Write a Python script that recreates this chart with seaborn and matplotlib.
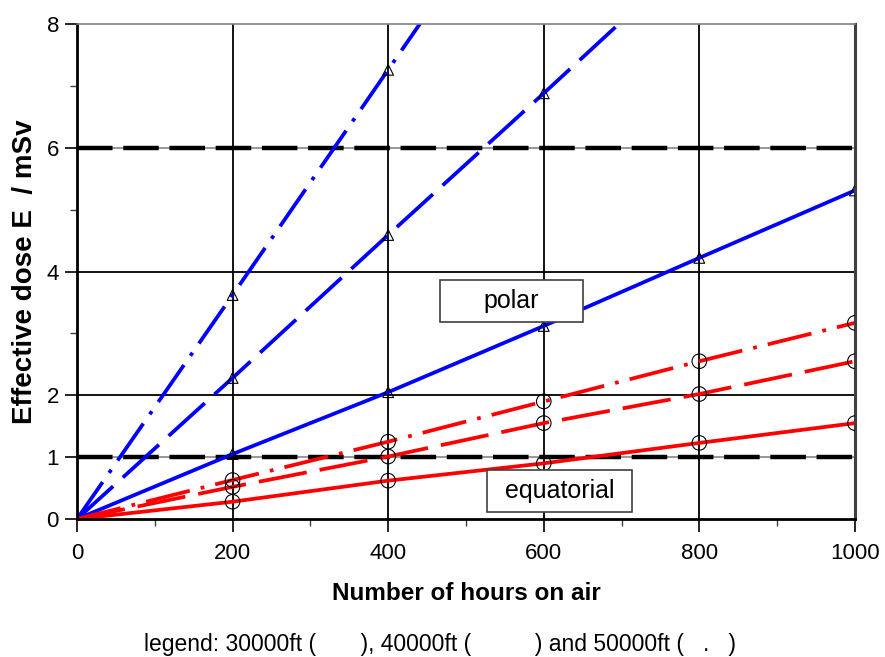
import numpy as np
import pandas as pd
import seaborn as sns
import matplotlib.pyplot as plt
from matplotlib.patches import Rectangle

hours = [0, 200, 400, 600, 800, 1000]
polar_30 = [0, 1.05, 2.05, 3.12, 4.22, 5.31]
polar_40 = [0, 2.28, 4.59, 6.88, 9.20, 11.50]
polar_50 = [0, 3.62, 7.26, 10.90, 14.50, 18.20]
equat_30 = [0, 0.28, 0.62, 0.90, 1.23, 1.55]
equat_40 = [0, 0.52, 1.01, 1.55, 2.02, 2.55]
equat_50 = [0, 0.63, 1.25, 1.90, 2.55, 3.17]
limit_levels = [1, 6]
x_ticks = [0, 200, 400, 600, 800, 1000]
x_minor = [100, 300, 500, 700, 900]
y_ticks = [0, 1, 2, 4, 6, 8]
y_minor = [3, 5, 7]

sns.set_style("ticks")
plt.rcParams['font.family'] = ['Liberation Sans', 'DejaVu Sans']
plt.rcParams['text.color'] = 'black'
plt.rcParams['axes.labelcolor'] = 'black'
plt.rcParams['xtick.color'] = 'black'
plt.rcParams['ytick.color'] = 'black'

fig = plt.figure(figsize=(8.85, 6.57), dpi=100)
ax = fig.add_axes([0.087, 0.21, 0.879, 0.7535])

# grid
for xv in x_ticks[1:-1]:
    ax.axvline(xv, color='black', lw=1.3, zorder=0.5)
for yv in [2, 4]:
    ax.axhline(yv, color='black', lw=1.3, zorder=0.5)
for yv in limit_levels:
    ax.axhline(yv, color='#909090', lw=1.3, zorder=0.8)
    ax.axhline(yv, color='black', lw=3.2, dashes=(8.0, 2.4), zorder=1)

dash_long = (13, 3.5)
dash_dot = (12, 3, 1, 3)
series = [
    (polar_30, 'blue', None, '^'),
    (polar_40, 'blue', dash_long, '^'),
    (polar_50, 'blue', dash_dot, '^'),
    (equat_30, 'red', None, 'o'),
    (equat_40, 'red', dash_long, 'o'),
    (equat_50, 'red', dash_dot, 'o'),
]
for vals, col, dash, mk in series:
    sns.lineplot(x=hours, y=vals, color=col, lw=2.7, ax=ax, zorder=2)
    if dash is not None:
        ax.lines[-1].set_dashes(dash)
    sns.scatterplot(x=hours[1:], y=vals[1:], marker=mk, s=60 if mk == '^' else 110,
                    facecolors='none', edgecolors='black', linewidths=0.8,
                    ax=ax, zorder=3)

ax.set_xlim(0, 1000)
ax.set_ylim(0, 8)
ax.set_xticks(x_ticks)
ax.set_xticks(x_minor, minor=True)
ax.set_yticks(y_ticks)
ax.set_yticks(y_minor, minor=True)
ax.tick_params(axis='both', which='major', length=9, width=1.2, labelsize=16,
               color='black', labelcolor='black')
ax.tick_params(axis='both', which='minor', length=5, width=1.0, color='#404040')
ax.tick_params(axis='x', which='major', pad=8)
ax.tick_params(axis='y', which='major', pad=4)

for side in ['left', 'bottom']:
    ax.spines[side].set_linewidth(2)
    ax.spines[side].set_color('black')
ax.spines['top'].set_color('#808080')
ax.spines['top'].set_linewidth(1.2)
ax.spines['right'].set_color('#404040')
ax.spines['right'].set_linewidth(2.2)

ax.set_xlabel("Number of hours on air", fontsize=17.5, fontweight='bold')
ax.set_ylabel("Effective dose E  / mSv", fontsize=20, fontweight='bold')
ax.xaxis.set_label_coords(0.5, -0.127)
ax.yaxis.set_label_coords(-0.05, 0.5)

# region boxes
for label, x0, x1, y0, y1 in [("polar", 467, 650, 3.18, 3.86),
                              ("equatorial", 527, 713, 0.11, 0.79)]:
    ax.add_patch(Rectangle((x0, y0), x1 - x0, y1 - y0, facecolor='white',
                           edgecolor='#404040', lw=1.2, zorder=4))
    ax.text((x0 + x1) / 2, (y0 + y1) / 2, label, fontsize=18,
            ha='center', va='center', zorder=5)

fig.text(0.497, 1 - 645 / 657,
         "legend: 30000ft (       ), 40000ft (          ) and 50000ft (   .   )",
         fontsize=16.5, ha='center', va='center')

fig.savefig("out.png", dpi=100)
